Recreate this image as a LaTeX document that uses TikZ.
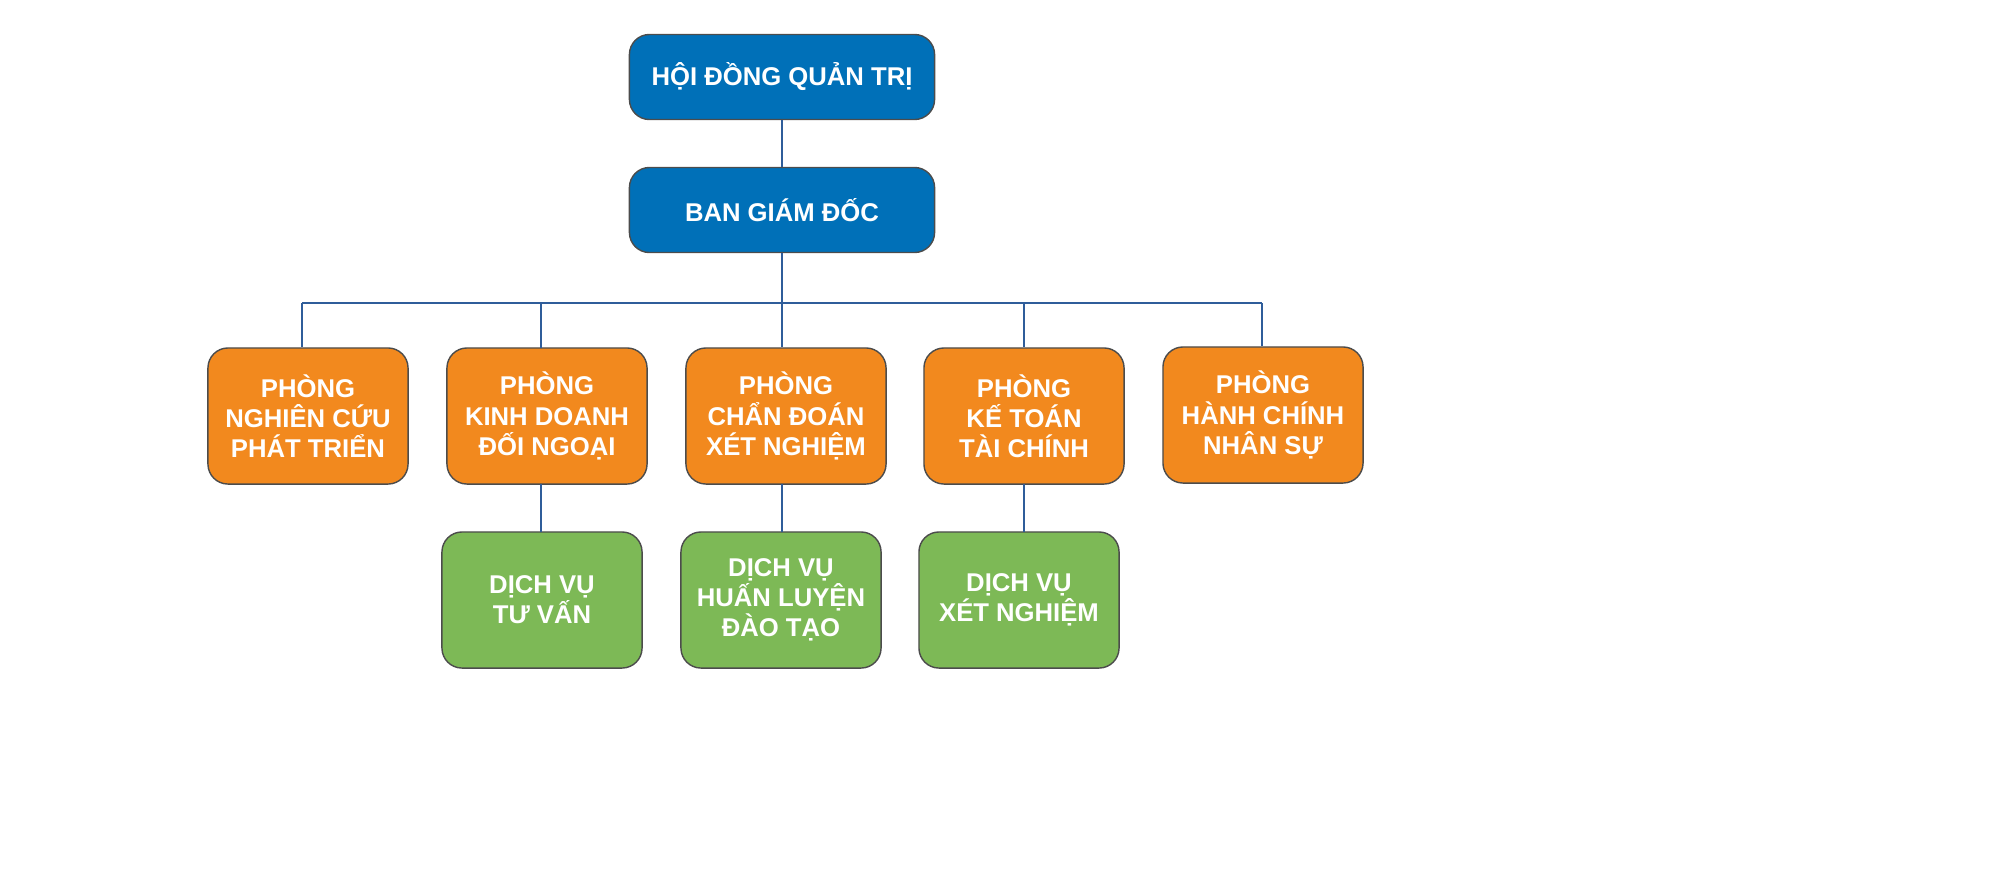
\documentclass[tikz,border=0pt]{standalone}
\usepackage{fontspec}
\setmainfont{Liberation Sans}
\begin{document}
\begin{tikzpicture}[x=0.01cm,y=-0.01cm,
  box/.style={draw=black!70,line width=0.4pt,rounded corners=0.2cm,text=white,font=\bfseries\fontsize{7.3}{8.6}\selectfont,align=center,inner sep=0pt},
  top/.style={box,fill=topblue,minimum width=3.05cm,minimum height=0.85cm},
  dept/.style={box,fill=deptorange,minimum width=2cm,minimum height=1.36cm},
  svc/.style={box,fill=svcgreen,minimum width=2cm,minimum height=1.36cm},
  link/.style={draw=linkblue,line width=0.5pt}]
\definecolor{topblue}{HTML}{0070B8}
\definecolor{deptorange}{HTML}{F2891E}
\definecolor{svcgreen}{HTML}{7DB956}
\definecolor{linkblue}{HTML}{2F5D9A}
\useasboundingbox (0,0) rectangle (2000,884);
\node[top] (hdqt) at (782,77) {HỘI ĐỒNG QUẢN TRỊ};
\node[top] (bgd) at (782,210) {BAN GIÁM ĐỐC};
\node[dept] (p1) at (308,416) {PHÒNG\\NGHIÊN CỨU\\PHÁT TRIỂN};
\node[dept] (p2) at (547,416) {PHÒNG\\KINH DOANH\\ĐỐI NGOẠI};
\node[dept] (p3) at (786,416) {PHÒNG\\CHẨN ĐOÁN\\XÉT NGHIỆM};
\node[dept] (p4) at (1024,416) {PHÒNG\\KẾ TOÁN\\TÀI CHÍNH};
\node[dept] (p5) at (1263,415) {PHÒNG\\HÀNH CHÍNH\\NHÂN SỰ};
\node[svc] (s1) at (542,600) {DỊCH VỤ\\TƯ VẤN};
\node[svc] (s2) at (781,600) {DỊCH VỤ\\HUẤN LUYỆN\\ĐÀO TẠO};
\node[svc] (s3) at (1019,600) {DỊCH VỤ\\XÉT NGHIỆM};
\coordinate (bus) at (782,303);
\coordinate (busL) at (302,303);
\coordinate (busR) at (1262,303);
\draw[link] (hdqt) -- (bgd);
\draw[link] (bgd) -- (bus);
\draw[link] (busL) -- (busR);
\draw[link] (busL) -- (busL |- p1.north);
\draw[link] (541,303) -- (541,348);
\draw[link] (bus) -- (bus |- p3.north);
\draw[link] (1024,303) -- (p4.north);
\draw[link] (busR) -- (busR |- p5.north);
\draw[link] (541,484) -- (541,532);
\draw[link] (782,484) -- (782,532);
\draw[link] (1024,484) -- (1024,532);
\end{tikzpicture}
\end{document}
